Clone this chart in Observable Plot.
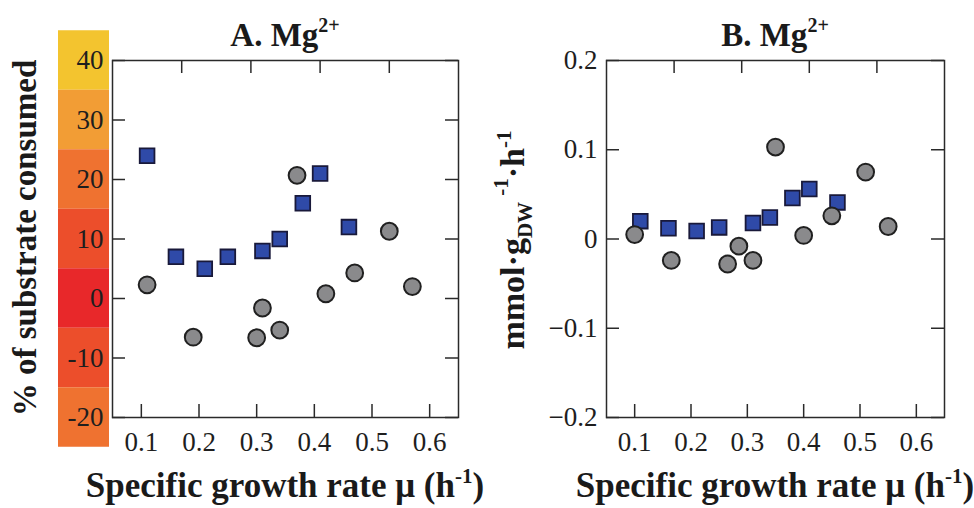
<!DOCTYPE html>
<html>
<head>
<meta charset="utf-8">
<script src="https://cdn.jsdelivr.net/npm/d3@7"></script>
<script src="https://cdn.jsdelivr.net/npm/@observablehq/plot@0.6"></script>
<style>
  html, body { margin: 0; padding: 0; background: #fff; }
  #fig { position: relative; width: 974px; height: 508px; overflow: hidden; }
  #fig > svg, #fig > figure { position: absolute; top: 0; margin: 0; }
  #fig svg text { font-family: "Liberation Serif", "Times New Roman", serif; }
</style>
</head>
<body>
<div id="fig"></div>
<script>
// Growth-rate axis (shared by both panels)
const muTicks = [0.1, 0.2, 0.3, 0.4, 0.5, 0.6];
const muTopTicks = [0.17, 0.29, 0.41, 0.53];

// Panel A: % of substrate consumed
const pctTicks = [40, 30, 20, 10, 0, -10, -20];
const pctTickLabels = ["40", "30", "20", "10", "0", "-10", "-20"];
const pctBandColors = ["#f3c42f", "#f29d35", "#ef7230", "#ec4e2b", "#e8282a", "#ec4e2b", "#ef7230"];
const muSquaresA = [0.11, 0.16, 0.21, 0.25, 0.31, 0.34, 0.38, 0.41, 0.46];
const pctSquares = [24, 7, 5, 7, 8, 10, 16, 21, 12];
const muCirclesA = [0.11, 0.19, 0.30, 0.31, 0.34, 0.37, 0.42, 0.47, 0.53, 0.57];
const pctCircles = [2.3, -6.5, -6.6, -1.6, -5.3, 20.7, 0.8, 4.3, 11.3, 2.0];

// Panel B: specific rate, mmol per gDW per h
const fluxTicks = [0.2, 0.1, 0, -0.1, -0.2];
const fluxTickLabels = ["0.2", "0.1", "0", "\u22120.1", "\u22120.2"];
const muSquaresB = [0.11, 0.16, 0.21, 0.25, 0.31, 0.34, 0.38, 0.41, 0.46];
const fluxSquares = [0.020, 0.012, 0.009, 0.013, 0.018, 0.024, 0.046, 0.056, 0.041];
const muCirclesB = [0.10, 0.165, 0.265, 0.285, 0.31, 0.35, 0.40, 0.45, 0.51, 0.55];
const fluxCircles = [0.005, -0.024, -0.028, -0.008, -0.024, 0.103, 0.004, 0.026, 0.075, 0.014];

const fig = document.getElementById("fig");
const serif = "Liberation Serif";
const H = 508, MT = 60, MB = 91, TICK = 13;
const INK = "#2a2a2a";

function panel({left, width, marginLeft, marginRight, yDomain, yTicks, yLabels, squares, circles}) {
  const frameW = width - marginLeft - marginRight;
  const frameH = H - MT - MB;
  const line = {stroke: INK, strokeWidth: 1.5};
  const text = {tickSize: 0, fontSize: 27, fontFamily: serif, fill: "#1e1e1e", label: null};
  const chart = Plot.plot({
    width, height: H, marginLeft, marginRight, marginTop: MT, marginBottom: MB,
    x: {domain: [0.05, 0.65]},
    y: {domain: yDomain},
    style: {fontFamily: serif, fontSize: "27px", background: "transparent", color: "#1e1e1e"},
    marks: [
      // inward ticks on all four sides
      Plot.tickX(muTicks, {x: d => d, insetTop: frameH - TICK, ...line}),
      Plot.tickX(muTopTicks, {x: d => d, insetBottom: frameH - TICK, ...line}),
      Plot.tickY(yTicks, {y: d => d, insetRight: frameW - TICK, ...line}),
      Plot.tickY(yTicks, {y: d => d, insetLeft: frameW - TICK, ...line}),
      Plot.frame(line),
      Plot.axisX(muTicks, {anchor: "bottom", tickPadding: 14, tickFormat: d => d.toFixed(1), ...text}),
      Plot.axisY(yTicks, {anchor: "left", tickPadding: 9, tickFormat: d => yLabels[yTicks.indexOf(d)], ...text}),
      Plot.dot(squares, {x: "mu", y: "v", symbol: "square", r: 8.3, fill: "#2f4aa8", stroke: "#19193a", strokeWidth: 1.8}),
      Plot.dot(circles, {x: "mu", y: "v", r: 8.4, fill: "#8a8a8c", stroke: "#202020", strokeWidth: 2})
    ]
  });
  chart.style.left = left + "px";
  return chart;
}

const rows = (xs, vs) => xs.map((mu, i) => ({mu, v: vs[i]}));

// colour bar behind the panel-A value labels
const bands = pctTicks.map((t, i) => ({lo: t - 5, hi: t + 5, color: pctBandColors[i]}));
const bar = Plot.plot({
  width: 51, height: H, marginLeft: 0, marginRight: 0, marginTop: MT, marginBottom: MB,
  y: {domain: [-20, 40], axis: null},
  style: {background: "transparent"},
  marks: [Plot.rect(bands, {y1: "lo", y2: "hi", fill: "color"})]
});
bar.style.left = "58px";
fig.appendChild(bar);

fig.appendChild(panel({
  left: 0, width: 487, marginLeft: 112, marginRight: 29,
  yDomain: [-20, 40], yTicks: pctTicks, yLabels: pctTickLabels,
  squares: rows(muSquaresA, pctSquares), circles: rows(muCirclesA, pctCircles)
}));

fig.appendChild(panel({
  left: 487, width: 487, marginLeft: 119, marginRight: 30,
  yDomain: [-0.2, 0.2], yTicks: fluxTicks, yLabels: fluxTickLabels,
  squares: rows(muSquaresB, fluxSquares), circles: rows(muCirclesB, fluxCircles)
}));

// titles and axis titles with super/subscripts
const svg = d3.select(fig).append("svg")
  .attr("width", 974).attr("height", H)
  .style("left", "0px").style("pointer-events", "none")
  .attr("font-family", serif).attr("font-weight", "bold").attr("fill", "#1a1a1a");

function title(x, letter) {
  const t = svg.append("text").attr("x", x).attr("y", 46).attr("text-anchor", "middle").attr("font-size", 33);
  t.append("tspan").text(letter + ". Mg");
  t.append("tspan").attr("font-size", 20).attr("dy", -14).text("2+");
}
function xTitle(x) {
  const t = svg.append("text").attr("x", x).attr("y", 497).attr("text-anchor", "middle").attr("font-size", 35);
  t.append("tspan").text("Specific growth rate \u03bc (h");
  t.append("tspan").attr("font-size", 21).attr("dy", -14).text("-1");
  t.append("tspan").attr("dy", 14).text(")");
}
title(285, "A");
title(775, "B");
xTitle(285);
xTitle(775);

svg.append("text").attr("transform", "translate(36,238) rotate(-90)")
  .attr("text-anchor", "middle").attr("font-size", 33).text("% of substrate consumed");

const yb = svg.append("text").attr("transform", "translate(524,240) rotate(-90)")
  .attr("text-anchor", "middle").attr("font-size", 34);
yb.append("tspan").text("mmol\u00b7g");
yb.append("tspan").attr("font-size", 21).attr("dy", 8).text("DW");
yb.append("tspan").attr("font-size", 21).attr("dy", -24).attr("dx", 7).text("-1");
yb.append("tspan").attr("dy", 16).text("\u00b7h");
yb.append("tspan").attr("font-size", 21).attr("dy", -13).text("-1");
</script>
</body>
</html>
